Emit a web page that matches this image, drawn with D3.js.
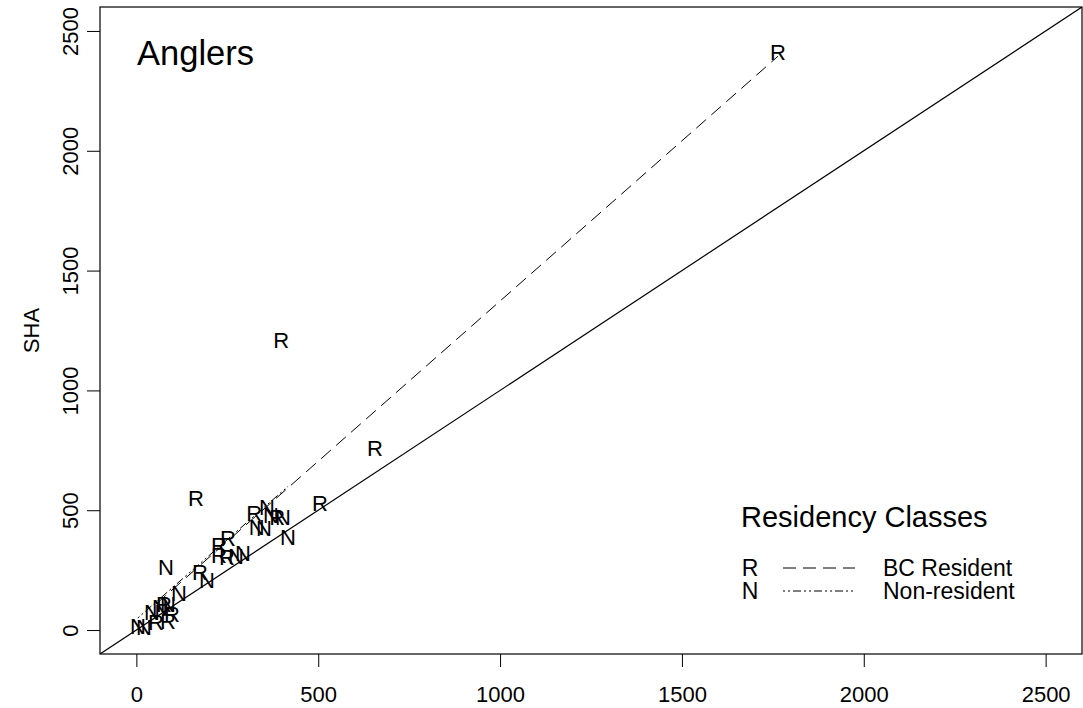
<!DOCTYPE html>
<html><head><meta charset="utf-8">
<script src="https://cdn.jsdelivr.net/npm/d3@7"></script>
<style>body{margin:0;background:#fff}svg{display:block}text{font-family:"Liberation Sans",Arial,sans-serif;fill:#000}</style>
</head><body><svg id="c" width="1083" height="708"></svg>
<script>
// ---- data ----
const residentX = [1764, 398, 656, 164, 505, 324, 387, 252, 227, 227, 249, 175, 54, 87, 76, 98];
const residentY = [2412, 1210, 760, 551, 530, 488, 472, 384, 355, 313, 305, 242, 33, 38, 109, 67];
const nonResX = [81, 359, 370, 403, 331, 351, 417, 293, 274, 194, 4, 21, 43, 65, 87, 117];
const nonResY = [263, 513, 480, 472, 430, 426, 388, 321, 309, 209, 17, 12, 75, 96, 109, 154];
const classCodes = ["R", "N"];
const classNames = ["BC Resident", "Non-resident"];
const fitIntercepts = [36, 45];
const fitSlopes = [1.337, 1.33];
const fitXRange = [[54, 1764], [4, 417]];
const tickValues = [0, 500, 1000, 1500, 2000, 2500];
const axisDomain = [-100, 2600];

const svg = d3.select("#c");
const L = 100, R = 1082, T = 7, B = 654;
const x = d3.scaleLinear().domain(axisDomain).range([L, R]);
const y = d3.scaleLinear().domain(axisDomain).range([B, T]);

svg.append("defs").append("clipPath").attr("id", "clip")
  .append("rect").attr("x", L).attr("y", T).attr("width", R - L).attr("height", B - T);

// x axis
const gx = svg.append("g").attr("transform", `translate(0,${B})`)
  .call(d3.axisBottom(x).tickValues(tickValues).tickSize(13).tickPadding(0).tickFormat(d3.format("d")));
gx.select(".domain").remove();
gx.selectAll("line").attr("stroke", "#000");
gx.selectAll("text").attr("y", 48).attr("dy", 0).style("font-size", "22px");

// y axis
const gy = svg.append("g").attr("transform", `translate(${L},0)`)
  .call(d3.axisLeft(y).tickValues(tickValues).tickSize(13).tickFormat(d3.format("d")));
gy.select(".domain").remove();
gy.selectAll("line").attr("stroke", "#000");
gy.selectAll("text").attr("x", 0).attr("dy", 0).attr("text-anchor", "middle")
  .attr("transform", "translate(-22,0) rotate(-90)").style("font-size", "22px");

// y label
svg.append("text").attr("transform", `translate(39,${(T + B) / 2}) rotate(-90)`)
  .attr("text-anchor", "middle").style("font-size", "22px").text("SHA");

// box
svg.append("rect").attr("x", L).attr("y", T).attr("width", R - L).attr("height", B - T)
  .attr("fill", "none").attr("stroke", "#000").attr("stroke-width", 1.2);

const plot = svg.append("g").attr("clip-path", "url(#clip)");
// identity line
plot.append("line").attr("x1", x(axisDomain[0])).attr("y1", y(axisDomain[0]))
  .attr("x2", x(axisDomain[1])).attr("y2", y(axisDomain[1])).attr("stroke", "#000").attr("stroke-width", 1.2);

const dashes = ["13,7", "2,3,2,3,8,3"];
classCodes.forEach((c, i) => {
  const [a, b] = fitXRange[i];
  plot.append("line")
    .attr("x1", x(a)).attr("y1", y(fitIntercepts[i] + fitSlopes[i] * a))
    .attr("x2", x(b)).attr("y2", y(fitIntercepts[i] + fitSlopes[i] * b))
    .attr("stroke", "#000").attr("stroke-width", 1).attr("stroke-dasharray", dashes[i]);
});

const groups = [
  {code: "R", xs: residentX, ys: residentY},
  {code: "N", xs: nonResX, ys: nonResY}
];
groups.forEach(g => {
  plot.selectAll(null).data(g.xs.map((v, i) => [v, g.ys[i]])).enter().append("text")
    .attr("x", d => x(d[0])).attr("y", d => y(d[1])).attr("dy", "0.36em")
    .attr("text-anchor", "middle").style("font-size", "22px").text(g.code);
});

// title
svg.append("text").attr("x", 137).attr("y", 65).style("font-size", "34.5px").text("Anglers");

// legend
svg.append("text").attr("x", 741).attr("y", 527).style("font-size", "29px").text("Residency Classes");
classCodes.forEach((c, i) => {
  const yy = 568 + i * 23;
  svg.append("text").attr("x", 750).attr("y", yy).attr("dy", "0.36em").attr("text-anchor", "middle")
    .style("font-size", "23px").text(c);
  svg.append("line").attr("x1", 783).attr("x2", 855).attr("y1", yy).attr("y2", yy)
    .attr("stroke", "#000").attr("stroke-dasharray", dashes[i]);
  svg.append("text").attr("x", 883).attr("y", yy).attr("dy", "0.36em")
    .style("font-size", "23px").text(classNames[i]);
});
</script></body></html>
